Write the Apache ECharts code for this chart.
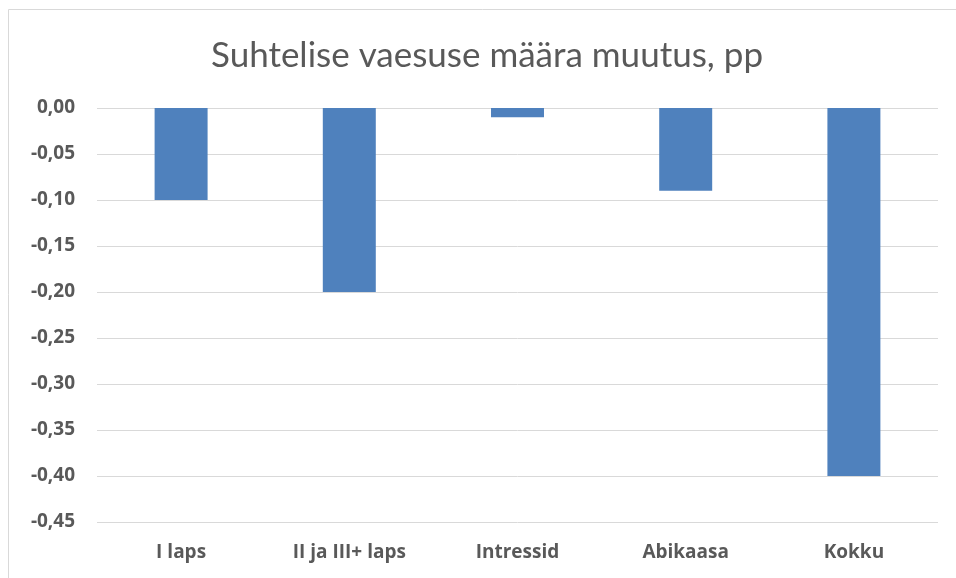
<!DOCTYPE html>
<html><head><meta charset="utf-8">
<script src="https://cdn.jsdelivr.net/npm/echarts@6/dist/echarts.min.js"></script>
<style>html,body{margin:0;padding:0;background:#fff}#c{width:956px;height:578px}</style>
</head><body><div id="c"></div>
<script>
const categories = ['I laps', 'II ja III+ laps', 'Intressid', 'Abikaasa', 'Kokku'];
const values = [-0.10, -0.20, -0.01, -0.09, -0.40];
const titleText = 'Suhtelise vaesuse määra muutus, pp';
const chart = echarts.init(document.getElementById('c'));
chart.setOption({
  animation: false,
  title: { text: titleText, left: 482, textAlign: 'center', top: 33,
    textStyle: { fontFamily: 'Lato', fontSize: 35, fontWeight: 'normal', color: '#595959' } },
  graphic: [{ type: 'rect', shape: { x: 8.5, y: 9.5, width: 960, height: 600 },
    style: { fill: 'none', stroke: '#d9d9d9', lineWidth: 1 }, silent: true }],
  grid: { left: 97, right: 18, top: 108, bottom: 56 },
  xAxis: { type: 'category', data: categories, position: 'bottom',
    axisLine: { show: false }, axisTick: { show: false },
    axisLabel: { margin: 21, fontFamily: 'Open Sans', fontSize: 19, fontWeight: 'bold', color: '#595959' } },
  yAxis: { type: 'value', min: -0.45, max: 0, interval: 0.05,
    axisLine: { show: false }, axisTick: { show: false },
    splitLine: { lineStyle: { color: '#d9d9d9', width: 1 } },
    axisLabel: { margin: 22, fontFamily: 'Open Sans', fontSize: 19, fontWeight: 'bold', color: '#595959',
      formatter: v => v.toFixed(2).replace('.', ',') } },
  series: [{ type: 'bar', data: values, barWidth: '31.5%', itemStyle: { color: '#4f81bd' } }]
});
</script></body></html>
